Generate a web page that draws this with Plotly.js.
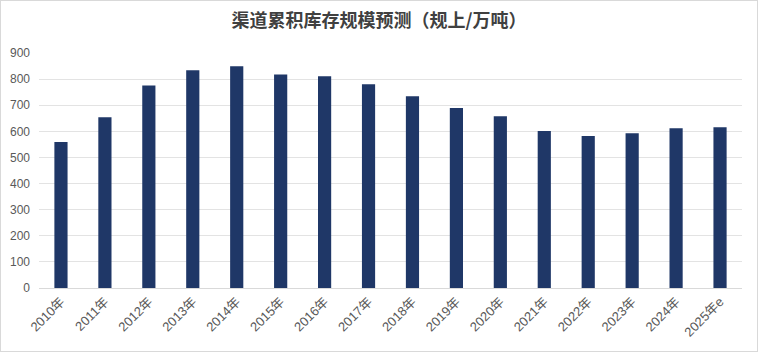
<!DOCTYPE html>
<html>
<head>
<meta charset="utf-8">
<script src="https://cdn.plot.ly/plotly-3.0.1.min.js"></script>
<style>
html,body{margin:0;padding:0;background:#fff;}
#wrap{width:758px;height:352px;box-sizing:border-box;border:1px solid #d9d9d9;}
#chart{width:756px;height:350px;}
</style>
</head>
<body>
<div id="wrap"><div id="chart"></div></div>
<script>
const categories = ["2010年","2011年","2012年","2013年","2014年","2015年","2016年","2017年","2018年","2019年","2020年","2021年","2022年","2023年","2024年","2025年e"];
const inventory = [559, 654, 776, 834, 849, 818, 811, 780, 734, 689, 658, 601, 582, 593, 612, 616];
const yTicks = [0,100,200,300,400,500,600,700,800,900];
const titleText = "渠道累积库存规模预测（规上/万吨）";

const fontFam = "'Liberation Sans', Arial, 'Noto Sans CJK SC', sans-serif";

Plotly.newPlot("chart", [{
  type: "bar",
  x: categories,
  y: inventory,
  marker: {color: "#1f3767"},
  width: 0.3,
  hoverinfo: "x+y"
}], {
  width: 756,
  height: 350,
  margin: {l: 37.5, r: 15, t: 52, b: 63, pad: 0},
  paper_bgcolor: "#ffffff",
  plot_bgcolor: "#ffffff",
  showlegend: false,
  title: {
    text: "<b>" + titleText + "</b>",
    x: 0.5, xanchor: "center",
    y: 0.945, yanchor: "middle",
    font: {family: "'Noto Sans CJK SC', sans-serif", size: 18, color: "#404040"}
  },
  xaxis: {
    type: "category",
    tickangle: -45,
    tickfont: {family: fontFam, size: 13, color: "#595959"},
    showgrid: false,
    showline: true,
    linecolor: "#d9d9d9",
    linewidth: 1,
    ticks: "",
    fixedrange: true
  },
  yaxis: {
    range: [0, 900],
    tickvals: yTicks,
    ticktext: yTicks.map(String),
    tickfont: {family: fontFam, size: 12, color: "#595959"},
    showgrid: true,
    gridcolor: "#e3e3e3",
    gridwidth: 1,
    zeroline: false,
    showline: false,
    ticks: "",
    ticklabelstandoff: 8,
    fixedrange: true
  }
}, {displayModeBar: false, staticPlot: true});
</script>
</body>
</html>
